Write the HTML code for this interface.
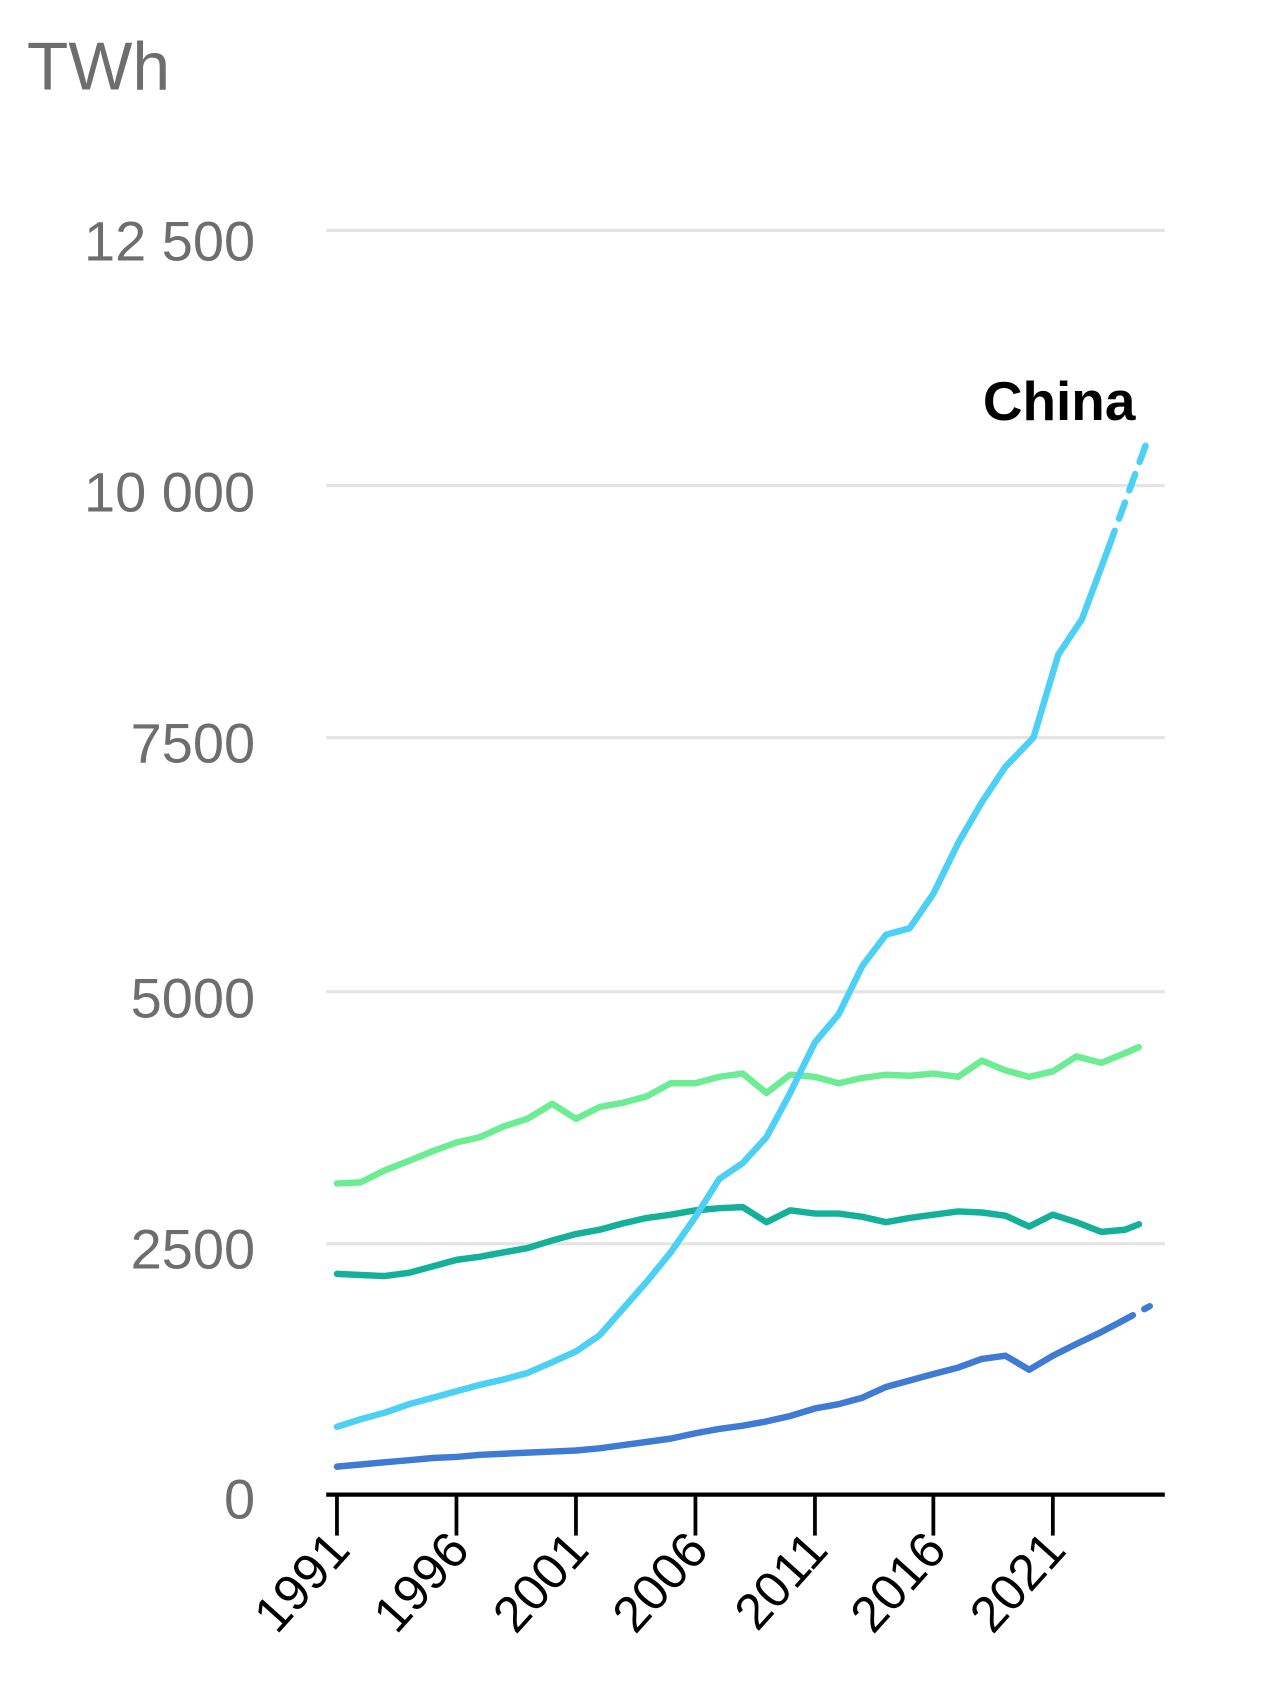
<!DOCTYPE html>
<html><head><meta charset="utf-8"><style>html,body{margin:0;padding:0;background:#fff}svg{display:block}</style></head>
<body>
<svg width="1280" height="1682" viewBox="0 0 1189 1562" preserveAspectRatio="none" xmlns="http://www.w3.org/2000/svg" font-family="Liberation Sans, sans-serif">
<text x="25" y="83" font-size="63" fill="#6e6e6e">TWh</text>
<g stroke="#e4e4e4" stroke-width="3">
<line x1="303" y1="214" x2="1082" y2="214"/>
<line x1="303" y1="451" x2="1082" y2="451"/>
<line x1="303" y1="685" x2="1082" y2="685"/>
<line x1="303" y1="921" x2="1082" y2="921"/>
<line x1="303" y1="1155" x2="1082" y2="1155"/>
</g>
<g font-size="52" fill="#6e6e6e" text-anchor="end">
<text x="237" y="242">12 500</text>
<text x="237" y="475">10 000</text>
<text x="237" y="708">7500</text>
<text x="237" y="945">5000</text>
<text x="237" y="1178">2500</text>
<text x="237" y="1410">0</text>
</g>
<g fill="none" stroke-width="6" stroke-linecap="round" stroke-linejoin="round">
<polyline stroke="#6ded93" points="313,1099 335,1098 357,1087 380,1078 402,1069 424,1061 446,1056 468,1046 490,1039 513,1025 535,1039 557,1028 579,1024 601,1018 623,1006 646,1006 668,1000 690,997 712,1015 734,998 757,1000 779,1006 801,1001 823,998 845,999 867,997 890,1000 912,985 934,994 956,1000 978,995 1000,981 1023,987 1045,978"/>
<polyline stroke="#6ded93" stroke-dasharray="14,12" points="1045,978 1068,968"/>
<polyline stroke="#14b09a" points="313,1183 335,1184 357,1185 380,1182 402,1176 424,1170 446,1167 468,1163 490,1159 513,1152 535,1146 557,1142 579,1136 601,1131 623,1128 646,1124 668,1122 690,1121 712,1135 734,1124 757,1127 779,1127 801,1130 823,1135 845,1131 867,1128 890,1125 912,1126 934,1129 956,1139 978,1128 1000,1135 1023,1144 1045,1142"/>
<polyline stroke="#14b09a" stroke-dasharray="14,12" points="1045,1142 1068,1133"/>
<polyline stroke="#3f7bd3" points="313,1362 335,1360 357,1358 380,1356 402,1354 424,1353 446,1351 468,1350 490,1349 513,1348 535,1347 557,1345 579,1342 601,1339 623,1336 646,1331 668,1327 690,1324 712,1320 734,1315 757,1308 779,1304 801,1298 823,1288 845,1282 867,1276 890,1270 912,1262 934,1259 956,1272 978,1259 1000,1248 1023,1237 1040,1228"/>
<polyline stroke="#3f7bd3" stroke-dasharray="14,12" points="1040,1228 1068,1213"/>
<polyline stroke="#4dd0f5" points="313,1325 335,1318 357,1312 380,1304 402,1298 424,1292 446,1286 468,1281 490,1275 513,1265 535,1255 557,1240 579,1215 601,1190 623,1163 646,1130 668,1095 690,1080 712,1056 734,1015 757,968 779,942 801,897 823,868 845,862 867,830 890,783 912,745 934,712 960,685 983,608 1005,575 1030,508"/>
<polyline stroke="#4dd0f5" stroke-dasharray="16,12" points="1030,508 1068,403"/>
</g>
<line x1="303" y1="1388" x2="1082" y2="1388" stroke="#000" stroke-width="4"/>
<g stroke="#000" stroke-width="3.5">
<line x1="313" y1="1388" x2="313" y2="1426"/>
<line x1="424" y1="1388" x2="424" y2="1426"/>
<line x1="535" y1="1388" x2="535" y2="1426"/>
<line x1="646" y1="1388" x2="646" y2="1426"/>
<line x1="757" y1="1388" x2="757" y2="1426"/>
<line x1="867" y1="1388" x2="867" y2="1426"/>
<line x1="978" y1="1388" x2="978" y2="1426"/>
</g>
<g font-size="47" fill="#000" text-anchor="end">
<text transform="translate(327,1441) rotate(-48)">1991</text>
<text transform="translate(438,1441) rotate(-48)">1996</text>
<text transform="translate(549,1441) rotate(-48)">2001</text>
<text transform="translate(660,1441) rotate(-48)">2006</text>
<text transform="translate(771,1441) rotate(-48)">2011</text>
<text transform="translate(881,1441) rotate(-48)">2016</text>
<text transform="translate(992,1441) rotate(-48)">2021</text>
</g>
<text x="913" y="390" font-size="51" font-weight="bold" fill="#000">China</text>
</svg>
</body></html>
